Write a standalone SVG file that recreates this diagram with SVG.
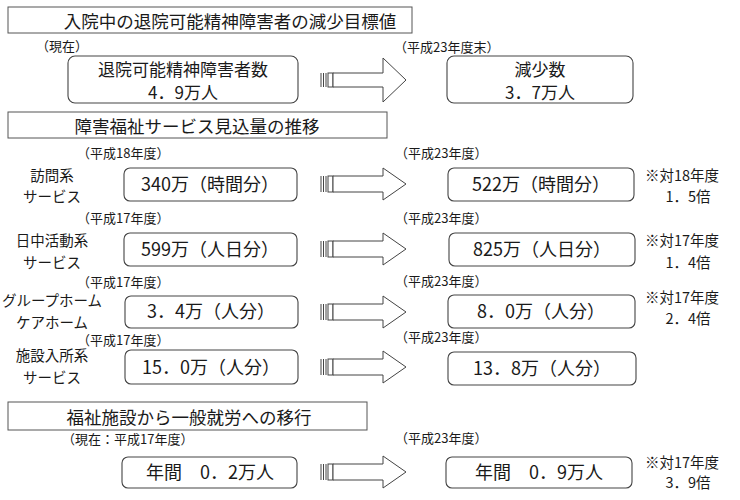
<svg xmlns="http://www.w3.org/2000/svg" width="740" height="500" viewBox="0 0 740 500">
<style>
text { font-family: "Noto Sans CJK JP", "Noto Sans CJK SC", sans-serif; fill: #1a1a1a; }
.title { font-size: 17.5px; text-anchor: middle; }
.tbox { fill: #fff; stroke: #555; stroke-width: 1; }
.box { fill: #fff; stroke: #444; stroke-width: 1.1; }
.val { font-size: 18px; text-anchor: middle; }
.val2 { font-size: 17px; text-anchor: middle; }
.lbl { font-size: 14.5px; text-anchor: middle; }
.yr { font-size: 13px; }
.note { font-size: 14.5px; text-anchor: middle; }
.arr { fill: #fff; stroke: #444; stroke-width: 1; }
.bar { stroke: #444; stroke-width: 1; fill: none; }
</style>
<defs>
  <g id="arrowBig">
    <line class="bar" x1="1" y1="-7" x2="1" y2="7"/>
    <line class="bar" x1="3.5" y1="-7" x2="3.5" y2="7"/>
    <line class="bar" x1="6" y1="-7" x2="6" y2="7"/>
    <rect class="arr" x="8" y="-7" width="5" height="14"/>
    <path class="arr" d="M13,-7 H63 V-22 L86,0 L63,22 V7 H13 Z"/>
  </g>
  <g id="arrowSmall">
    <line class="bar" x1="1" y1="-8" x2="1" y2="8"/>
    <line class="bar" x1="3.5" y1="-8" x2="3.5" y2="8"/>
    <line class="bar" x1="6" y1="-8" x2="6" y2="8"/>
    <rect class="arr" x="8" y="-8" width="5" height="16"/>
    <path class="arr" d="M13,-8 H63 V-16 L86,0 L63,16 V8 H13 Z"/>
  </g>
</defs>

<!-- Section 1 -->
<g id="title1">
  <rect class="tbox" x="8" y="7" width="404" height="26"/>
  <text class="title" x="230" y="28">入院中の退院可能精神障害者の減少目標値</text>
</g>
<g id="s1-now">
  <text class="yr" x="36" y="51">（現在）</text>
  <rect class="box" x="68" y="56" width="230" height="47" rx="7"/>
  <text class="val2" x="183" y="76">退院可能精神障害者数</text>
  <text class="val2" x="183" y="99">4．9万人</text>
</g>
<g id="s1-target">
  <text class="yr" x="394" y="52">（平成23年度末）</text>
  <rect class="box" x="447" y="56" width="186" height="47" rx="7"/>
  <text class="val2" x="540" y="76">減少数</text>
  <text class="val2" x="540" y="99">3．7万人</text>
</g>

<!-- Section 2 -->
<g id="title2">
  <rect class="tbox" x="8" y="112" width="379" height="26"/>
  <text class="title" x="197" y="133">障害福祉サービス見込量の推移</text>
</g>

<g id="r1-left">
  <text class="yr" x="77" y="158">（平成18年度）</text>
  <text class="lbl" x="52" y="181">訪問系</text>
  <text class="lbl" x="52" y="202">サービス</text>
  <rect class="box" x="124" y="168" width="173" height="33" rx="6"/>
  <text class="val" x="210" y="191">340万（時間分）</text>
</g>
<g id="r1-right">
  <text class="yr" x="395" y="158">（平成23年度）</text>
  <rect class="box" x="448" y="168" width="186" height="33" rx="6"/>
  <text class="val" x="541" y="191">522万（時間分）</text>
  <text class="note" x="682" y="181">※対18年度</text>
  <text class="note" x="688" y="202">1．5倍</text>
</g>

<g id="r2-left">
  <text class="yr" x="77" y="223">（平成17年度）</text>
  <text class="lbl" x="52" y="246">日中活動系</text>
  <text class="lbl" x="52" y="268">サービス</text>
  <rect class="box" x="124" y="233" width="173" height="33" rx="6"/>
  <text class="val" x="210" y="256">599万（人日分）</text>
</g>
<g id="r2-right">
  <text class="yr" x="395" y="223">（平成23年度）</text>
  <rect class="box" x="449" y="233" width="186" height="33" rx="6"/>
  <text class="val" x="542" y="256">825万（人日分）</text>
  <text class="note" x="682" y="246">※対17年度</text>
  <text class="note" x="688" y="268">1．4倍</text>
</g>

<g id="r3-left">
  <text class="yr" x="77" y="287">（平成17年度）</text>
  <text class="lbl" x="52" y="306">グループホーム</text>
  <text class="lbl" x="52" y="328">ケアホーム</text>
  <rect class="box" x="125" y="296" width="173" height="32" rx="6"/>
  <text class="val" x="211" y="318">3．4万（人分）</text>
</g>
<g id="r3-right">
  <text class="yr" x="395" y="286">（平成23年度）</text>
  <rect class="box" x="448" y="295" width="187" height="33" rx="6"/>
  <text class="val" x="541" y="318">8．0万（人分）</text>
  <text class="note" x="682" y="303">※対17年度</text>
  <text class="note" x="688" y="324">2．4倍</text>
</g>

<g id="r4-left">
  <text class="yr" x="77" y="345">（平成17年度）</text>
  <text class="lbl" x="52" y="361">施設入所系</text>
  <text class="lbl" x="52" y="383">サービス</text>
  <rect class="box" x="125" y="350" width="173" height="34" rx="6"/>
  <text class="val" x="211" y="374">15．0万（人分）</text>
</g>
<g id="r4-right">
  <text class="yr" x="395" y="342">（平成23年度）</text>
  <rect class="box" x="448" y="352" width="188" height="33" rx="6"/>
  <text class="val" x="542" y="375">13．8万（人分）</text>
</g>

<!-- Section 3 -->
<g id="title3">
  <rect class="tbox" x="8" y="402" width="359" height="28"/>
  <text class="title" x="189" y="424">福祉施設から一般就労への移行</text>
</g>
<g id="r5-left">
  <text class="yr" x="62" y="444">（現在：平成17年度）</text>
  <rect class="box" x="122" y="457" width="175" height="31" rx="6"/>
  <text class="val" x="210" y="479">年間　0．2万人</text>
</g>
<g id="r5-right">
  <text class="yr" x="395" y="443">（平成23年度）</text>
  <rect class="box" x="446" y="457" width="186" height="31" rx="6"/>
  <text class="val" x="539" y="479">年間　0．9万人</text>
  <text class="note" x="682" y="468">※対17年度</text>
  <text class="note" x="688" y="488">3．9倍</text>
</g>

<g id="connectors">
  <use href="#arrowBig" transform="translate(320,80)"/>
  <use href="#arrowSmall" transform="translate(320,184)"/>
  <use href="#arrowSmall" transform="translate(320,249)"/>
  <use href="#arrowSmall" transform="translate(320,312)"/>
  <use href="#arrowSmall" transform="translate(320,367)"/>
  <use href="#arrowSmall" transform="translate(320,472)"/>
</g>
</svg>
